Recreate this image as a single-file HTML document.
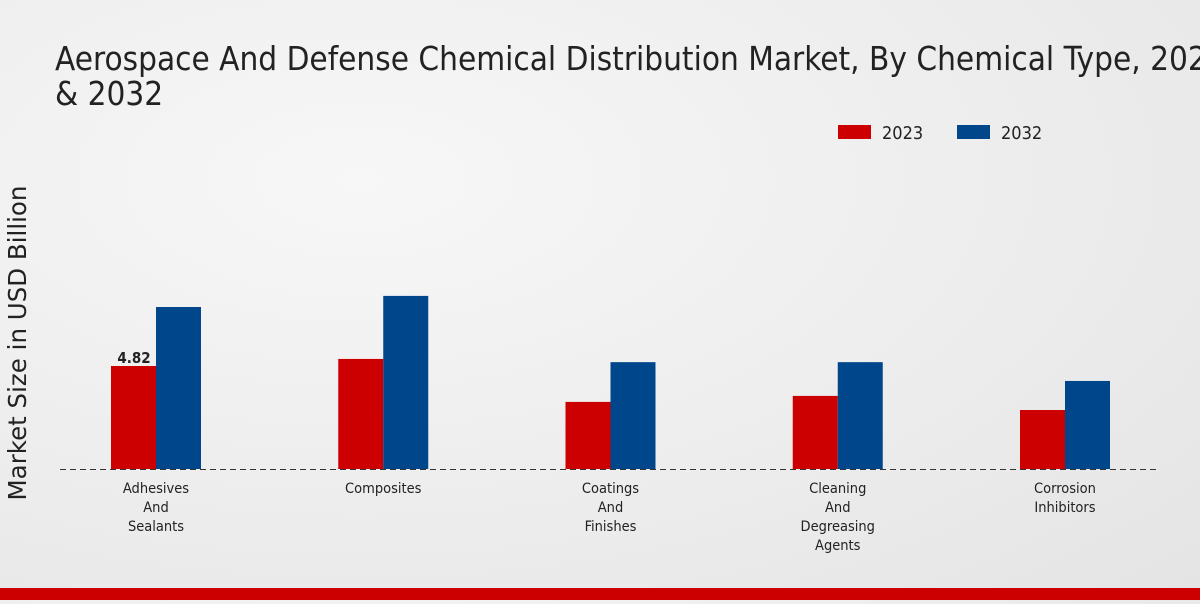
<!DOCTYPE html>
<html><head><meta charset="utf-8"><style>
body{margin:0;width:1200px;height:600px;overflow:hidden;background:radial-gradient(ellipse at 30% 30%,#f7f7f7 0%,#ececec 60%,#e4e4e4 100%);font-family:"DejaVu Sans Condensed","DejaVu Sans","Liberation Sans",sans-serif;}
#wrap{position:relative;width:1200px;height:600px}
</style></head><body><div id="wrap">
<svg width="1200" height="600" id="svg">
<text x="55" y="70" font-size="33" fill="#222" font-stretch="condensed">Aerospace And Defense Chemical Distribution Market, By Chemical Type, 2023</text>
<text x="55" y="105" font-size="33" fill="#222" font-stretch="condensed">&amp; 2032</text>
<text transform="translate(26,343) rotate(-90)" text-anchor="middle" font-size="24.5" fill="#222" style="font-family:'DejaVu Sans',sans-serif">Market Size in USD Billion</text>
<rect x="838" y="125" width="33" height="14" fill="#cc0000"/>
<text x="882" y="139" font-size="18" fill="#222">2023</text>
<rect x="957" y="125" width="33" height="14" fill="#00468b"/>
<text x="1001" y="139" font-size="18" fill="#222">2032</text>
<g id="bars"></g>
<line x1="60" y1="469.5" x2="1160" y2="469.5" stroke="#333" stroke-dasharray="6,4"/>
<rect x="0" y="588" width="1200" height="12" fill="#cc0000"/>
</svg></div>
<script>
const categories=[["Adhesives","And","Sealants"],["Composites"],["Coatings","And","Finishes"],["Cleaning","And","Degreasing","Agents"],["Corrosion","Inhibitors"]];
const values2023=[4.82,5.15,3.14,3.42,2.76];
const values2032=[7.58,8.1,5.0,5.0,4.12];
const ns="http://www.w3.org/2000/svg";
const g=document.getElementById('bars');
const y=v=>469-v*21.37;
const xc=i=>156+i*227.25;
function mk(t,a){const e=document.createElementNS(ns,t);for(const k in a)e.setAttribute(k,a[k]);g.appendChild(e);return e;}
categories.forEach((c,i)=>{
 const r=mk('rect',{x:xc(i)-45,y:y(values2023[i]),width:45,height:469-y(values2023[i]),fill:'#cc0000'});
 
 
 const b=mk('rect',{x:xc(i),y:y(values2032[i]),width:45,height:469-y(values2032[i]),fill:'#00468b'});
 
 
 c.forEach((w,j)=>{const t=mk('text',{x:xc(i),y:493+j*19,'text-anchor':'middle','font-size':14.5,fill:'#222'});t.textContent=w;
 
 });
});
const lbl=mk('text',{x:xc(0)-22,y:y(values2023[0])-3,'text-anchor':'middle','font-size':15,'font-weight':'bold',fill:'#222'});
lbl.textContent=values2023[0];


</script></body></html>
